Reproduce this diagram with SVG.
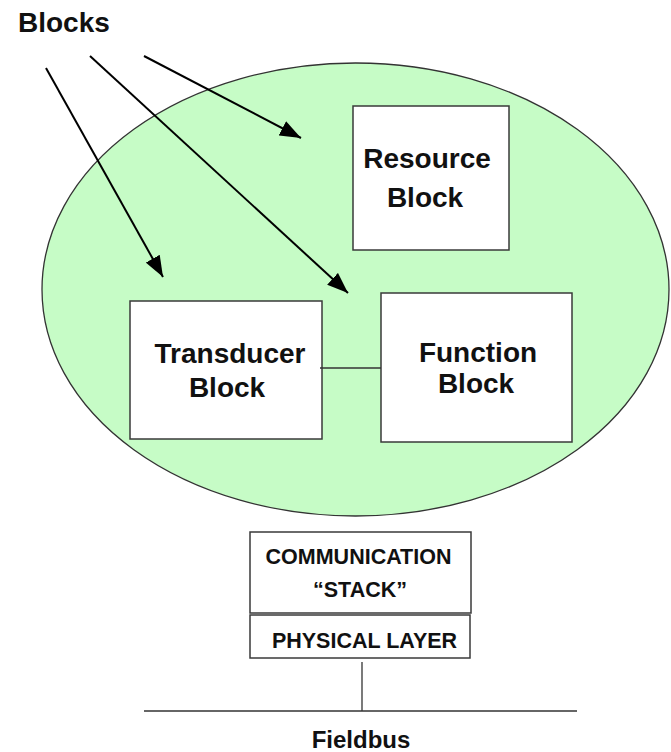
<svg xmlns="http://www.w3.org/2000/svg" width="671" height="752" viewBox="0 0 671 752">
  <style>
    text { font-family: "Liberation Sans", Arial, sans-serif; font-weight: bold; fill: #111; }
    .box { fill: #ffffff; stroke: #3a3a3a; stroke-width: 1.5; }
    .big { font-size: 28px; }
    .small { font-size: 21.5px; }
    .wire { stroke: #333; stroke-width: 1.3; fill: none; }
    .arrow { stroke: #000; stroke-width: 2; fill: none; marker-end: url(#head); }
  </style>
  <defs>
    <marker id="head" markerUnits="userSpaceOnUse" markerWidth="22" markerHeight="16" refX="21" refY="8" orient="auto">
      <path d="M0,0 L21,8 L0,16 z" fill="#000"/>
    </marker>
  </defs>
  <rect width="671" height="752" fill="#ffffff"/>

  <!-- device boundary -->
  <g id="device">
    <ellipse cx="355.5" cy="289.5" rx="313.5" ry="226.5" fill="#c6fcc6" stroke="#333" stroke-width="1.3"/>
  </g>

  <g id="blocks-label">
    <text class="big" x="18" y="32">Blocks</text>
  </g>

  <g id="resource-block">
    <rect class="box" x="353" y="106" width="156" height="144"/>
    <text class="big" x="427" y="168" text-anchor="middle">Resource</text>
    <text class="big" x="425" y="207" text-anchor="middle">Block</text>
  </g>

  <g id="transducer-block">
    <rect class="box" x="130" y="301" width="192" height="138"/>
    <text class="big" x="230" y="363" text-anchor="middle">Transducer</text>
    <text class="big" x="227" y="397" text-anchor="middle">Block</text>
  </g>

  <g id="function-block">
    <rect class="box" x="381" y="293" width="191" height="149"/>
    <text class="big" x="478" y="362" text-anchor="middle">Function</text>
    <text class="big" x="476" y="393" text-anchor="middle">Block</text>
  </g>

  <g id="communication-stack">
    <rect class="box" x="250" y="532" width="221" height="81"/>
    <text class="small" x="358.5" y="564" text-anchor="middle">COMMUNICATION</text>
    <text class="small" x="360" y="597" text-anchor="middle">“STACK”</text>
  </g>

  <g id="physical-layer">
    <rect class="box" x="250" y="615" width="220" height="43"/>
    <text class="small" x="364.5" y="648" text-anchor="middle">PHYSICAL LAYER</text>
  </g>

  <g id="fieldbus">
    <line class="wire" x1="144" y1="711" x2="577" y2="711"/>
    <text x="361" y="748" text-anchor="middle" font-size="24">Fieldbus</text>
  </g>

  <g id="connectors">
    <line class="arrow" x1="46" y1="68" x2="163" y2="277"/>
    <line class="arrow" x1="90" y1="56" x2="348" y2="293"/>
    <line class="arrow" x1="144" y1="56" x2="301" y2="138"/>
    <line class="wire" x1="320" y1="368" x2="381" y2="368"/>
    <line class="wire" x1="362" y1="662" x2="362" y2="711"/>
  </g>
</svg>
